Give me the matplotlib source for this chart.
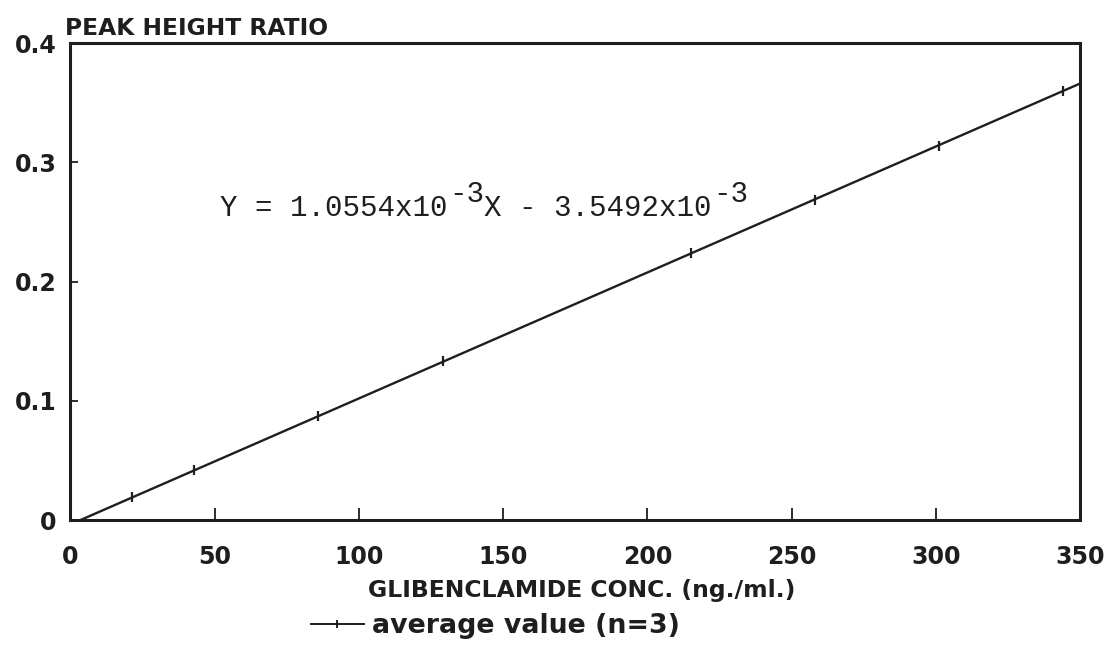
import matplotlib.pyplot as plt
from matplotlib.lines import Line2D

# Data
konc = [21.5, 43, 86, 129, 215, 258, 301, 344]          # ng./ml.
kvot = [0.019, 0.042, 0.087, 0.133, 0.224, 0.268, 0.314, 0.360]
linje_x = [3.4, 350]                                      # regression line ends
linje_y = [0.0, 0.366]
x_ticks = [0, 50, 100, 150, 200, 250, 300, 350]
y_ticks = [0, 0.1, 0.2, 0.3, 0.4]
y_labels = ["0", "0.1", "0.2", "0.3", "0.4"]
ekv_delar = ["Y = 1.0554x10", "-3", "X - 3.5492x10", "-3"]

plt.rcParams['font.family'] = ['DejaVu Sans']

ink = "#1e1e1e"
fig = plt.figure(figsize=(11.18, 6.72), dpi=100)
ax = fig.add_axes([0.063, 0.226, 0.903, 0.71])

ax.plot(linje_x, linje_y, color=ink, lw=1.7)
ax.plot(konc, kvot, linestyle="none", marker="|", markersize=7, mew=1.6, color=ink)

ax.set_xlim(0, 350)
ax.set_ylim(0, 0.4)
for s in ax.spines.values():
    s.set_linewidth(2.2)
    s.set_color(ink)

# inward ticks, only the inner ones drawn
ax.set_xticks(x_ticks)
ax.set_xticklabels([str(t) for t in x_ticks], fontsize=17, fontweight="bold", color=ink)
ax.set_yticks(y_ticks)
ax.set_yticklabels(y_labels, fontsize=17, fontweight="bold", color=ink)
ax.tick_params(axis="x", direction="in", length=9, width=1.3, pad=18, colors=ink)
ax.tick_params(axis="y", direction="in", length=6, width=1.3, pad=10, colors=ink)
for t in ax.xaxis.get_major_ticks()[::len(x_ticks) - 1]:
    t.tick1line.set_visible(False)
for t in ax.yaxis.get_major_ticks()[::len(y_ticks) - 1]:
    t.tick1line.set_visible(False)

# Axel-texter
fig.text(0.058, 0.958, "PEAK HEIGHT RATIO", fontsize=16.8, fontweight="bold",
         color=ink, ha="left", va="center")
fig.text(0.52, 0.122, "GLIBENCLAMIDE CONC. (ng./ml.)", fontsize=16.9,
         fontweight="bold", color=ink, ha="center", va="center")

# Ekvationen, bit for bit so the exponents stay large
mono = ["Liberation Mono", "DejaVu Sans Mono"]
bas = ax.text(52, 0.250, ekv_delar[0], fontsize=21, family=mono, color=ink,
              ha="left", va="bottom")
t = bas
for i, bit in enumerate(ekv_delar[1:]):
    upp = (i % 2 == 0)
    t = ax.annotate(bit, xy=(1, 0), xycoords=(t, bas), xytext=(1 if upp else 0, 10 if upp else 0),
                    textcoords="offset points", fontsize=21, family=mono,
                    color=ink, ha="left", va="bottom")

# Legend below the plot
handle = Line2D([], [], color=ink, lw=1.4, marker="|", markersize=6, mew=1.4)
fig.legend([handle], ["average value (n=3)"], loc="center", bbox_to_anchor=(0.443, 0.068),
           frameon=False, prop={"size": 19.3, "weight": "bold"}, handlelength=2.0,
           handletextpad=0.3, labelcolor=ink)

fig.savefig("out.png", dpi=100, facecolor="white")
